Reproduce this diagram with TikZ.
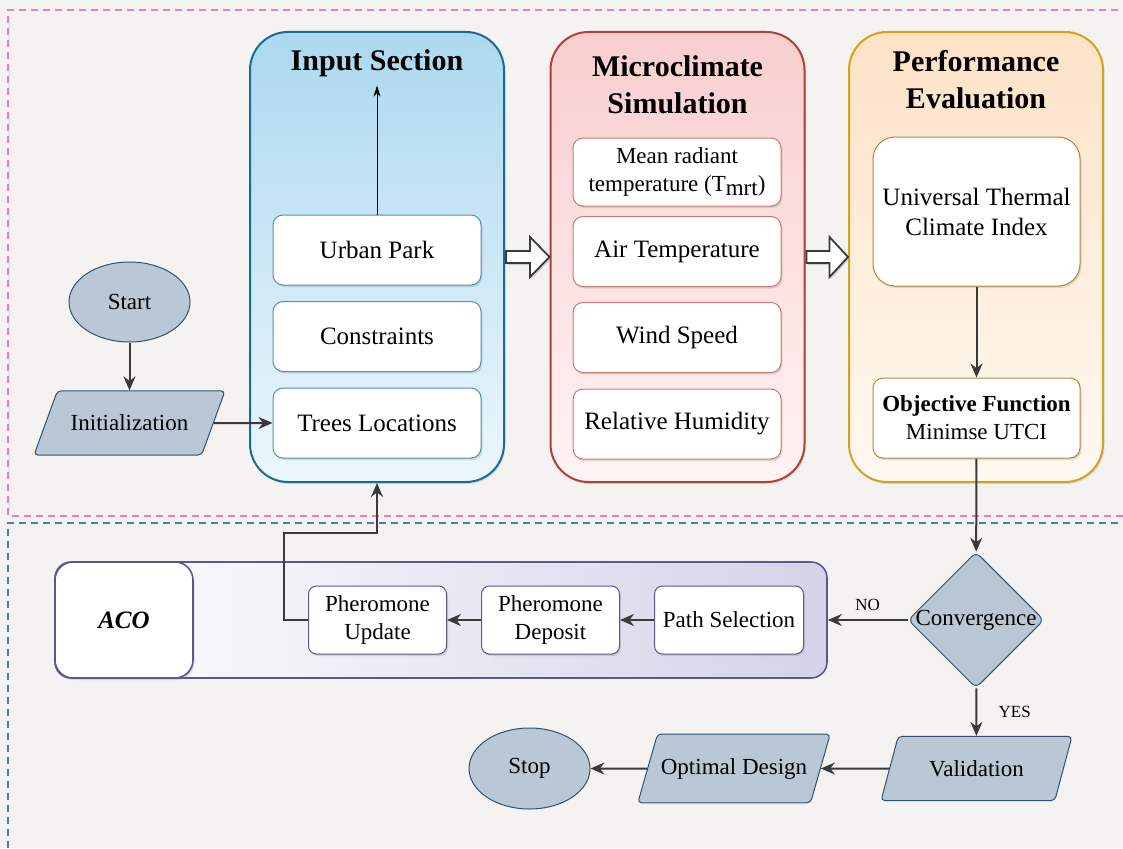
\documentclass[tikz,border=0pt]{standalone}
\usepackage{fontspec}
\setmainfont{Liberation Serif}
\usetikzlibrary{positioning, calc, arrows.meta, shadows, shapes.geometric}
\definecolor{cBg}{RGB}{244,243,241}
\definecolor{cPink}{RGB}{234,122,198}
\definecolor{cBlue}{RGB}{74,124,176}
\definecolor{cInp}{RGB}{26,108,152}
\definecolor{cInpT}{RGB}{172,216,238}
\definecolor{cInpB}{RGB}{236,247,252}
\definecolor{cMic}{RGB}{176,64,56}
\definecolor{cMicT}{RGB}{248,206,206}
\definecolor{cMicB}{RGB}{255,243,243}
\definecolor{cPer}{RGB}{214,160,32}
\definecolor{cPerT}{RGB}{252,226,198}
\definecolor{cPerB}{RGB}{255,249,242}
\definecolor{cPerI}{RGB}{178,134,62}
\definecolor{cAco}{RGB}{92,88,140}
\definecolor{cAcoF}{RGB}{212,210,232}
\definecolor{cFlow}{RGB}{185,200,212}
\definecolor{cFlowD}{RGB}{50,82,112}
\definecolor{cLine}{RGB}{58,58,58}

\tikzset{
  panel/.style={draw, line width=2pt, rounded corners=38pt, minimum width=254pt, minimum height=450pt,
    drop shadow={opacity=0.2, shadow xshift=1.5pt, shadow yshift=-2pt}},
  ttl/.style={font=\fontsize{30}{37}\selectfont\bfseries, align=center, inner sep=8pt},
  inbox/.style={draw, fill=white, line width=1pt, rounded corners=10pt, minimum width=208pt, minimum height=70pt,
    align=center, font=\fontsize{25}{30}\selectfont,
    drop shadow={opacity=0.25, shadow xshift=1.5pt, shadow yshift=-2pt}},
  term/.style={ellipse, draw=cFlowD, fill=cFlow, line width=1pt, minimum width=121pt, minimum height=80pt,
    font=\fontsize{23}{28}\selectfont},
  io/.style={trapezium, trapezium left angle=72, trapezium right angle=108, trapezium stretches body=true,
    draw=cFlowD, fill=cFlow, line width=1pt, rounded corners=4pt, inner ysep=24pt, minimum width=191pt,
    font=\fontsize{23}{28}\selectfont},
  decision/.style={diamond, draw=cFlowD, fill=cFlow, line width=1pt, rounded corners=6pt, inner sep=0pt,
    minimum width=136pt, minimum height=136pt, font=\fontsize{23}{28}\selectfont},
  acobox/.style={draw=cAco, fill=white, line width=1pt, rounded corners=8pt, minimum height=68pt,
    align=center, font=\fontsize{23}{28}\selectfont,
    drop shadow={opacity=0.25, shadow xshift=1.5pt, shadow yshift=-2pt}},
  flow/.style={draw=cLine, line width=2pt, -{Stealth[length=14pt, width=12pt]}},
  lbl/.style={font=\fontsize{17}{20}\selectfont, text=black},
  blockarr/.style={draw=cLine, fill=white, line width=1.8pt, line join=miter,
    drop shadow={opacity=0.3, shadow xshift=1.5pt, shadow yshift=-2pt}}
}

\begin{document}
\begin{tikzpicture}[x=1pt, y=-1pt]
    \useasboundingbox (0,0) rectangle (1123,848);
    \fill[cBg] (0,0) rectangle (1123,848);

    % dashed frames
    \draw[cPink, line width=1.2pt, dash pattern=on 7pt off 5pt] (1130,10) -- (8,10) -- (8,516) -- (1130,516);
    \draw[cBlue, line width=1.2pt, dash pattern=on 7pt off 5pt] (1130,523) -- (8,523) -- (8,860);

    % three panels
    \node[panel, draw=cInp, top color=cInpT, bottom color=cInpB] (inp) at (377,257) {};
    \node[panel, draw=cMic, top color=cMicT, bottom color=cMicB] (mic) at (677.5,257) {};
    \node[panel, draw=cPer, top color=cPerT, bottom color=cPerB] (per) at (976,257) {};

    \node[ttl, anchor=base] (inpT) at (377,71) {Input Section};
    \node[ttl] (micT) at (677.5,85) {Microclimate\\Simulation};
    \node[ttl] (perT) at (976,80) {Performance\\Evaluation};

    % Input Section
    \node[inbox, draw=cInp!75] (park) at (377,250) {Urban Park};
    \node[inbox, draw=cInp!75] (cons) at (377,336.5) {Constraints};
    \node[inbox, draw=cInp!75] (trees) at (377,423) {Trees Locations};
    \draw[black, line width=0.8pt, -{Stealth[length=11pt, width=7pt]}] (park) -- (inpT);

    % Microclimate Simulation
    \node[inbox, draw=cMic!70, minimum height=68pt, font=\fontsize{23}{28}\selectfont] (mrt) at (677,172)
        {Mean radiant\\temperature (T\raisebox{-0.35ex}{mrt})};
    \node[inbox, draw=cMic!70] (air) at (677,251.5) {Air Temperature};
    \node[inbox, draw=cMic!70] (wind) at (677,337.5) {Wind Speed};
    \node[inbox, draw=cMic!70] (hum) at (677,424) {Relative Humidity};

    % Performance Evaluation
    \node[inbox, draw=cPerI, rounded corners=22pt, minimum width=207pt, minimum height=149pt,
        font=\fontsize{25}{30}\selectfont] (utci) at (976.5,211.5) {Universal Thermal\\Climate Index};
    \node[inbox, draw=cPerI, minimum width=207pt, minimum height=80pt,
        font=\fontsize{23}{28}\selectfont] (obj) at (976.5,418) {\textbf{Objective Function}\\Minimse UTCI};
    \draw[flow] (utci) -- (obj);

    % hollow arrows between panels
    \draw[blockarr] ($(inp.east)+(1,-6)$) -- ++(24,0) -- ++(0,-14) -- (mic.west)
        -- ($(inp.east)+(25,20)$) -- ++(0,-14) -- ($(inp.east)+(1,6)$) -- cycle;
    \draw[blockarr] ($(mic.east)+(1,-6)$) -- ++(23,0) -- ++(0,-14) -- (per.west)
        -- ($(mic.east)+(24,20)$) -- ++(0,-14) -- ($(mic.east)+(1,6)$) -- cycle;

    % Start and initialization
    \node[term] (start) at (129.5,302) {Start};
    \node[io, trapezium left angle=70, trapezium right angle=110] (init) at (129.5,423) {Initialization};
    \draw[flow] (start) -- (init);
    \draw[flow] (init) -- (trees);

    % ACO block
    \node[draw=cAco, line width=1.6pt, rounded corners=16pt, left color=white, right color=cAcoF,
        minimum width=772pt, minimum height=116pt] (acop) at (441,620) {};
    \node[draw=cAco, fill=white, line width=1.6pt, rounded corners=18pt, minimum width=138pt, minimum height=116pt,
        font=\fontsize{25}{30}\selectfont\bfseries\itshape,
        drop shadow={opacity=0.25, shadow xshift=1.5pt, shadow yshift=-2pt}] (aco) at (124,620) {ACO};
    \node[acobox, minimum width=149pt] (psel) at (729,620) {Path Selection};
    \node[acobox, minimum width=138pt] (dep) at (550.5,620) {Pheromone\\Deposit};
    \node[acobox, minimum width=138pt] (upd) at (377.5,620) {Pheromone\\Update};
    \draw[flow] (psel) -- (dep);
    \draw[flow] (dep) -- (upd);
    \coordinate (fb) at (377,533);
    \draw[flow, line join=miter] (upd.west) -- ++(-24,0) |- (fb) -- (inp.south);

    % Decision and end
    \node[decision] (conv) at (976,620) {\makebox[0pt]{Convergence}};
    \draw[flow] (obj) -- (conv);
    \draw[flow] (conv) -- node[lbl, above=5pt] {NO} (acop);

    \node[io, trapezium left angle=75, trapezium right angle=105] (valid) at (976.5,768.5) {Validation};
    \node[io, trapezium left angle=74, trapezium right angle=106, minimum width=192pt] (optd) at (734,768.5) {Optimal Design};
    \node[term, minimum height=81pt] (stop) at (529.5,768.5) {Stop};
    \draw[flow] (conv) -- node[lbl, right=18pt] {YES} (valid);
    \draw[flow] (valid) -- (optd);
    \draw[flow] (optd) -- (stop);
\end{tikzpicture}
\end{document}
